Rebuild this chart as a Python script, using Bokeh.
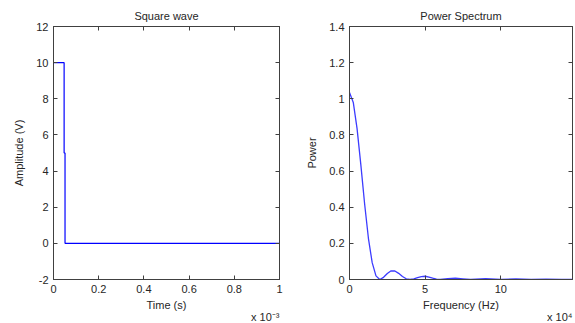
from bokeh.plotting import figure
from bokeh.layouts import row
from bokeh.models import LinearAxis, FixedTicker, CustomJSTickFormatter, Title, Range1d
from bokeh.embed import file_html
from bokeh.resources import INLINE

# ---- data ----
# square wave (time in units of 1e-3 s)
time_ms = [0.0, 0.047, 0.047, 0.051, 0.051, 1.0]
amplitude = [10, 10, 5, 5, 0, 0]

# power spectrum (frequency in units of 1e4 Hz)
freq = [0, 0.25, 0.5, 0.75, 1.0, 1.25, 1.5, 1.75, 2.0, 2.25, 2.5, 2.75, 3.0, 3.25,
        3.5, 3.75, 4.0, 4.25, 4.5, 4.75, 5.0, 5.25, 5.5, 5.75, 6.0, 6.5, 7.0, 7.5,
        8.0, 9.0, 10.0, 11.0, 12.0, 13.0, 14.0, 15.0]
power = [1.035, 0.98, 0.835, 0.634, 0.418, 0.228, 0.093, 0.020, 0.0, 0.012, 0.033,
         0.048, 0.047, 0.034, 0.017, 0.004, 0.0, 0.003, 0.010, 0.016, 0.018, 0.013,
         0.007, 0.002, 0.0, 0.005, 0.008, 0.004, 0.0, 0.005, 0.0, 0.003, 0.0, 0.002,
         0.0, 0.001]

left_xticks = [0, 0.2, 0.4, 0.6, 0.8, 1.0]
left_yticks = [-2, 0, 2, 4, 6, 8, 10, 12]
right_xticks = [0, 5, 10, 15]
right_yticks = [0, 0.2, 0.4, 0.6, 0.8, 1.0, 1.2, 1.4]

FONT = "Liberation Sans"
TXT = "#262626"
AX = "#404040"

fmt = CustomJSTickFormatter(code="return (Math.round(tick*10)/10).toString();")
blank = CustomJSTickFormatter(code="return '';")


def style(p, xticks, yticks, exp_text):
    p.title.text_font = FONT
    p.title.text_font_size = "11px"
    p.title.text_font_style = "normal"
    p.title.text_color = TXT
    p.title.align = "center"
    p.title.standoff = 10
    p.title.offset = 0
    p.outline_line_color = AX
    p.xgrid.visible = False
    p.ygrid.visible = False
    for ax in p.xaxis + p.yaxis:
        ax.axis_line_color = AX
        ax.major_tick_line_color = AX
        ax.major_tick_in = 4
        ax.major_tick_out = 0
        ax.minor_tick_line_color = None
        ax.major_label_text_font = FONT
        ax.major_label_text_font_size = "11px"
        ax.major_label_text_color = TXT
        ax.axis_label_text_font = FONT
        ax.axis_label_text_font_size = "11px"
        ax.axis_label_text_font_style = "normal"
        ax.axis_label_text_color = TXT
        ax.formatter = fmt
    p.xaxis.ticker = FixedTicker(ticks=xticks)
    p.yaxis.ticker = FixedTicker(ticks=yticks)
    p.xaxis.major_label_standoff = 5
    p.yaxis.major_label_standoff = 5
    p.xaxis.axis_label_standoff = 3
    p.yaxis.axis_label_standoff = 8
    # mirrored tick marks on top and right
    for loc, tk in (("above", xticks), ("right", yticks)):
        a = LinearAxis(ticker=FixedTicker(ticks=tk), major_tick_in=4, major_tick_out=0,
                       minor_tick_line_color=None, formatter=blank,
                       major_label_standoff=0, axis_line_color=AX,
                       major_tick_line_color=AX)
        p.add_layout(a, loc)
    # axis exponent annotation ("x 10^n") below the x axis, right aligned
    p.add_layout(Title(text=exp_text, align="right", text_font=FONT,
                       text_font_size="11px", text_font_style="normal",
                       text_color=TXT, standoff=-9, offset=0), "below")


p1 = figure(frame_width=226, frame_height=253, title="Square wave",
            x_range=Range1d(0, 1), y_range=Range1d(-2, 12),
            output_backend="svg", toolbar_location=None,
            min_border_left=53, min_border_right=11, min_border_top=26,
            min_border_bottom=44)
p1.line(time_ms, amplitude, line_color="#0000ff", line_width=1.2)
p1.xaxis.axis_label = "Time (s)"
p1.yaxis.axis_label = "Amplitude (V)"
style(p1, left_xticks, left_yticks, "x 10\u207b\u00b3")

p2 = figure(frame_width=223, frame_height=253, title="Power Spectrum",
            x_range=Range1d(0, 14.74), y_range=Range1d(0, 1.4),
            output_backend="svg", toolbar_location=None,
            min_border_left=59, min_border_right=3, min_border_top=26,
            min_border_bottom=44)
p2.line(freq, power, line_color="#3c3cff", line_width=1.3)
p2.xaxis.axis_label = "Frequency (Hz)"
p2.yaxis.axis_label = "Power"
style(p2, right_xticks, right_yticks, "x 10\u2074")

layout = row(p1, p2)
open("out.html", "w").write(file_html(layout, INLINE))
